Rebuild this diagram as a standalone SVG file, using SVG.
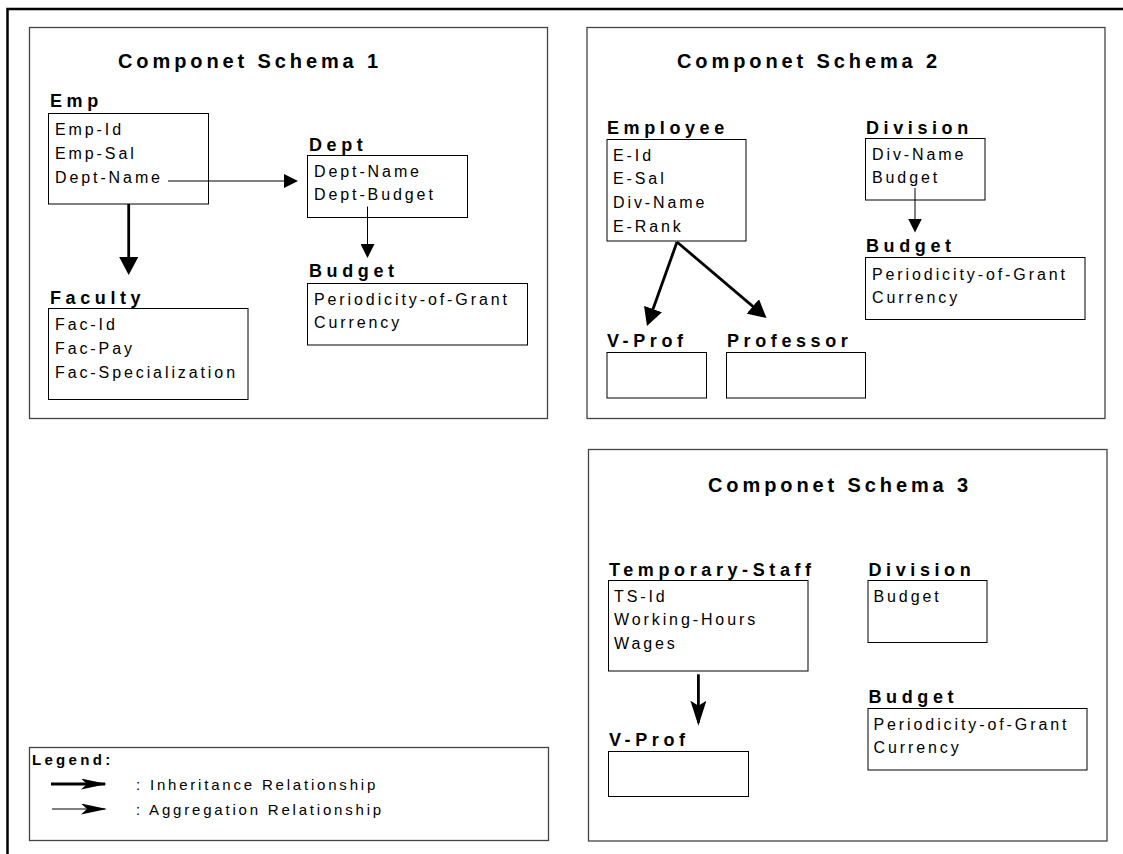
<svg xmlns="http://www.w3.org/2000/svg" width="1123" height="854" viewBox="0 0 1123 854">
  <style>
    .frame { fill: none; stroke: #000; stroke-width: 2.5; }
    .schema { fill: none; stroke: #444; stroke-width: 1.3; }
    .box { fill: #fff; stroke: #000; stroke-width: 1; }
    .title { font-family: "Liberation Sans", Arial, sans-serif; font-weight: bold; font-size: 20px; letter-spacing: 3.9px; fill: #000; }
    .label { font-family: "Liberation Sans", Arial, sans-serif; font-weight: bold; font-size: 18px; letter-spacing: 4.6px; fill: #000; }
    .attr { font-family: "Liberation Sans", Arial, sans-serif; font-size: 16px; letter-spacing: 2.9px; fill: #000; }
    .leg { font-family: "Liberation Sans", Arial, sans-serif; font-size: 15px; letter-spacing: 2.8px; fill: #000; }
    .leghead { font-family: "Liberation Sans", Arial, sans-serif; font-weight: bold; font-size: 15px; letter-spacing: 3.3px; fill: #000; }
    .inh { fill: none; stroke: #000; stroke-width: 2.8; }
    .agg { fill: none; stroke: #000; stroke-width: 1; }
  </style>
  <defs>
    <marker id="headInh" markerUnits="userSpaceOnUse" viewBox="0 0 18 19" markerWidth="18" markerHeight="19" refX="14" refY="9.5" orient="auto">
      <path d="M0,0 L18,9.5 L0,19 z" fill="#000"/>
    </marker>
    <marker id="headAgg" markerUnits="userSpaceOnUse" viewBox="0 0 14 14" markerWidth="14" markerHeight="14" refX="12" refY="7" orient="auto">
      <path d="M0,0 L14,7 L0,14 z" fill="#000"/>
    </marker>
    <marker id="headBarb" markerUnits="userSpaceOnUse" viewBox="0 0 25 16" markerWidth="25" markerHeight="16" refX="22" refY="8" orient="auto">
      <path d="M0,0 L25,8 L0,16 L5,8 z" fill="#000"/>
    </marker>
    <marker id="headLeg" markerUnits="userSpaceOnUse" viewBox="0 0 26 11" markerWidth="26" markerHeight="11" refX="24" refY="5.5" orient="auto">
      <path d="M0,0 L26,5.5 L0,11 L6,5.5 z" fill="#000"/>
    </marker>
  </defs>

  <!-- page frame -->
  <path class="frame" d="M7.5,854 V9 H1123"/>

  <!-- schema panels -->
  <g id="schema1">
    <rect class="schema" x="29.5" y="27.5" width="518" height="391"/>
    <text class="title" x="118" y="68">Componet Schema 1</text>
  </g>
  <g id="schema2">
    <rect class="schema" x="587" y="27.5" width="518" height="391"/>
    <text class="title" x="677" y="68">Componet Schema 2</text>
  </g>
  <g id="schema3">
    <rect class="schema" x="588.5" y="449.5" width="518.5" height="391.5"/>
    <text class="title" x="708" y="492">Componet Schema 3</text>
  </g>

  <!-- schema 1 entities -->
  <g id="emp">
    <text class="label" x="50" y="107">Emp</text>
    <rect class="box" x="48.5" y="113.5" width="160" height="90.5"/>
    <text class="attr" x="55" y="135">Emp-Id</text>
    <text class="attr" x="55" y="159">Emp-Sal</text>
    <text class="attr" x="55" y="183">Dept-Name</text>
  </g>
  <g id="dept">
    <text class="label" x="309" y="151">Dept</text>
    <rect class="box" x="307.5" y="155.5" width="160" height="62"/>
    <text class="attr" x="314" y="177">Dept-Name</text>
    <text class="attr" x="314" y="200">Dept-Budget</text>
  </g>
  <g id="budget1">
    <text class="label" x="309" y="277">Budget</text>
    <rect class="box" x="307.5" y="283.5" width="220" height="61.5"/>
    <text class="attr" x="314" y="305">Periodicity-of-Grant</text>
    <text class="attr" x="314" y="328">Currency</text>
  </g>
  <g id="faculty">
    <text class="label" x="50" y="304">Faculty</text>
    <rect class="box" x="48.5" y="308.5" width="199.5" height="91"/>
    <text class="attr" x="55" y="330">Fac-Id</text>
    <text class="attr" x="55" y="354">Fac-Pay</text>
    <text class="attr" x="55" y="378">Fac-Specialization</text>
  </g>

  <!-- schema 2 entities -->
  <g id="employee">
    <text class="label" x="607" y="134">Employee</text>
    <rect class="box" x="607" y="139.5" width="139" height="101.5"/>
    <text class="attr" x="613" y="161">E-Id</text>
    <text class="attr" x="613" y="184">E-Sal</text>
    <text class="attr" x="613" y="208">Div-Name</text>
    <text class="attr" x="613" y="232">E-Rank</text>
  </g>
  <g id="division2">
    <text class="label" x="866" y="134">Division</text>
    <rect class="box" x="865.5" y="138.5" width="119.5" height="61.5"/>
    <text class="attr" x="872" y="160">Div-Name</text>
    <text class="attr" x="872" y="183">Budget</text>
  </g>
  <g id="budget2">
    <text class="label" x="866" y="252">Budget</text>
    <rect class="box" x="865.5" y="257.5" width="219.5" height="62"/>
    <text class="attr" x="872" y="280">Periodicity-of-Grant</text>
    <text class="attr" x="872" y="303">Currency</text>
  </g>
  <g id="vprof2">
    <text class="label" x="607" y="347">V-Prof</text>
    <rect class="box" x="607" y="352.5" width="99.5" height="45.5"/>
  </g>
  <g id="professor">
    <text class="label" x="727" y="347">Professor</text>
    <rect class="box" x="726.5" y="352.5" width="139" height="45.5"/>
  </g>

  <!-- schema 3 entities -->
  <g id="tempstaff">
    <text class="label" x="609" y="576">Temporary-Staff</text>
    <rect class="box" x="608.5" y="580.5" width="199.5" height="90.5"/>
    <text class="attr" x="614" y="602">TS-Id</text>
    <text class="attr" x="614" y="625">Working-Hours</text>
    <text class="attr" x="614" y="649">Wages</text>
  </g>
  <g id="division3">
    <text class="label" x="868.5" y="576">Division</text>
    <rect class="box" x="868" y="580.5" width="119" height="62"/>
    <text class="attr" x="873.5" y="602">Budget</text>
  </g>
  <g id="budget3">
    <text class="label" x="868.5" y="703">Budget</text>
    <rect class="box" x="868" y="708.5" width="219" height="61.5"/>
    <text class="attr" x="873.5" y="730">Periodicity-of-Grant</text>
    <text class="attr" x="873.5" y="753">Currency</text>
  </g>
  <g id="vprof3">
    <text class="label" x="609" y="746">V-Prof</text>
    <rect class="box" x="608.5" y="751.5" width="140" height="45"/>
  </g>

  <!-- relationships -->
  <g id="connectors">
    <line class="agg" x1="168" y1="181" x2="296" y2="181" marker-end="url(#headAgg)"/>
    <line class="agg" x1="367.5" y1="206.5" x2="367.5" y2="256" marker-end="url(#headAgg)"/>
    <line class="inh" x1="128.7" y1="204" x2="128.7" y2="271" marker-end="url(#headInh)"/>
    <line class="agg" x1="915" y1="188" x2="915" y2="230.5" marker-end="url(#headAgg)"/>
    <line class="inh" x1="677" y1="242" x2="648.3" y2="322.2" marker-end="url(#headInh)"/>
    <line class="inh" x1="677" y1="242" x2="763.5" y2="315.4" marker-end="url(#headInh)"/>
    <line class="inh" x1="698.4" y1="674.3" x2="698.4" y2="722.7" marker-end="url(#headBarb)"/>
  </g>

  <!-- legend -->
  <g id="legend">
    <rect class="schema" x="29.5" y="747.5" width="519" height="93"/>
    <text class="leghead" x="32" y="765">Legend:</text>
    <line class="inh" x1="51" y1="784" x2="105" y2="784" stroke-width="2" marker-end="url(#headLeg)"/>
    <text class="leg" x="136" y="790">: Inheritance Relationship</text>
    <line class="agg" x1="52" y1="809" x2="105" y2="809" marker-end="url(#headLeg)"/>
    <text class="leg" x="136" y="815">: Aggregation Relationship</text>
  </g>
</svg>
